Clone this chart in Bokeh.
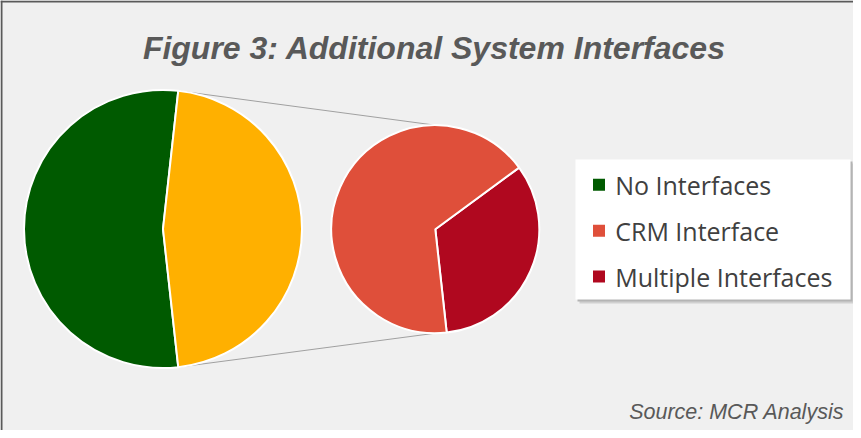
import math
from bokeh.plotting import figure
from bokeh.models import Range1d, Label
from bokeh.core.properties import value
from bokeh.embed import file_html
from bokeh.resources import INLINE

# ---- data ----
categories = ["No Interfaces", "CRM Interface", "Multiple Interfaces"]
shares = [53.5, 31.0, 15.5]
colors = ["#005a00", "#df4f3a", "#b0081f"]
other_color = "#ffb000"
title_text = "Figure 3: Additional System Interfaces"
source_text = "Source: MCR Analysis"

# ---- layout (pixel-like data units) ----
W, H = 853, 430
p = figure(width=W, height=H, x_range=Range1d(0, W), y_range=Range1d(0, H),
           output_backend="svg", toolbar_location=None,
           x_axis_location=None, y_axis_location=None, min_border=0,
           background_fill_color="#f0f0f0", border_fill_color="#f0f0f0",
           outline_line_color=None)
p.grid.visible = False

# frame lines (top / left)
p.line([0, W], [H - 1, H - 1], line_color="#5a5a5a", line_width=2)
p.line([1, 1], [0, H], line_color="#5a5a5a", line_width=2)

total = sum(shares)
other = shares[1] + shares[2]
theta = math.pi * other / total

cx1, cy1, r1 = 162.5, 201.5, 139
cx2, cy2, r2 = 434.8, 201.3, 104

# connector lines
p.line([cx1 + r1 * math.cos(theta), cx2], [cy1 + r1 * math.sin(theta), cy2 + r2],
       line_color="#a0a0a0", line_width=1)
p.line([cx1 + r1 * math.cos(theta), cx2], [cy1 - r1 * math.sin(theta), cy2 - r2],
       line_color="#a0a0a0", line_width=1)

# primary pie
p.wedge(x=cx1, y=cy1, radius=r1, start_angle=theta, end_angle=2 * math.pi - theta,
        fill_color=colors[0], line_color="white", line_width=2)
p.wedge(x=cx1, y=cy1, radius=r1, start_angle=-theta, end_angle=theta,
        fill_color=other_color, line_color="white", line_width=2)

# secondary pie
a0 = -theta
a1 = a0 + 2 * math.pi * shares[2] / other
p.wedge(x=cx2, y=cy2, radius=r2, start_angle=a0, end_angle=a1,
        fill_color=colors[2], line_color="white", line_width=2)
p.wedge(x=cx2, y=cy2, radius=r2, start_angle=a1, end_angle=a0 + 2 * math.pi,
        fill_color=colors[1], line_color="white", line_width=2)

# ---- legend (manual) ----
lx0, lx1, ly_top, ly_bot = 575, 850, H - 159, H - 299
p.quad(left=lx0 + 4, right=lx1 + 4, top=ly_top - 4, bottom=ly_bot - 4,
       fill_color="#d0d0d0", line_color=None)
p.quad(left=lx0 + 2, right=lx1 + 2, top=ly_top - 2, bottom=ly_bot - 2,
       fill_color="#b4b4b4", line_color=None)
p.quad(left=lx0, right=lx1, top=ly_top, bottom=ly_bot, fill_color="white", line_color=None)
row_y = [H - 184.3, H - 230.3, H - 276.0]
p.rect(x=[598.5] * 3, y=row_y, width=12, height=12, fill_color=colors, line_color=None)
p.text(x=[614.7] * 3, y=row_y, text=categories, text_baseline="middle",
       text_font=value("Open Sans"), text_font_size="25px", text_color="#404040")

p.add_layout(Label(x=434, y=H - 56.3 + 9, text=title_text, text_align="center",
                   text_baseline="alphabetic", text_font="Liberation Sans",
                   text_font_style="bold italic", text_font_size="32px",
                   text_color="#595959"))
p.add_layout(Label(x=843.7, y=H - 418 + 7, text=source_text, text_align="right",
                   text_baseline="alphabetic", text_font="Liberation Sans",
                   text_font_style="italic", text_font_size="21.5px",
                   text_color="#595959"))

open("out.html", "w").write(file_html(p, INLINE))
